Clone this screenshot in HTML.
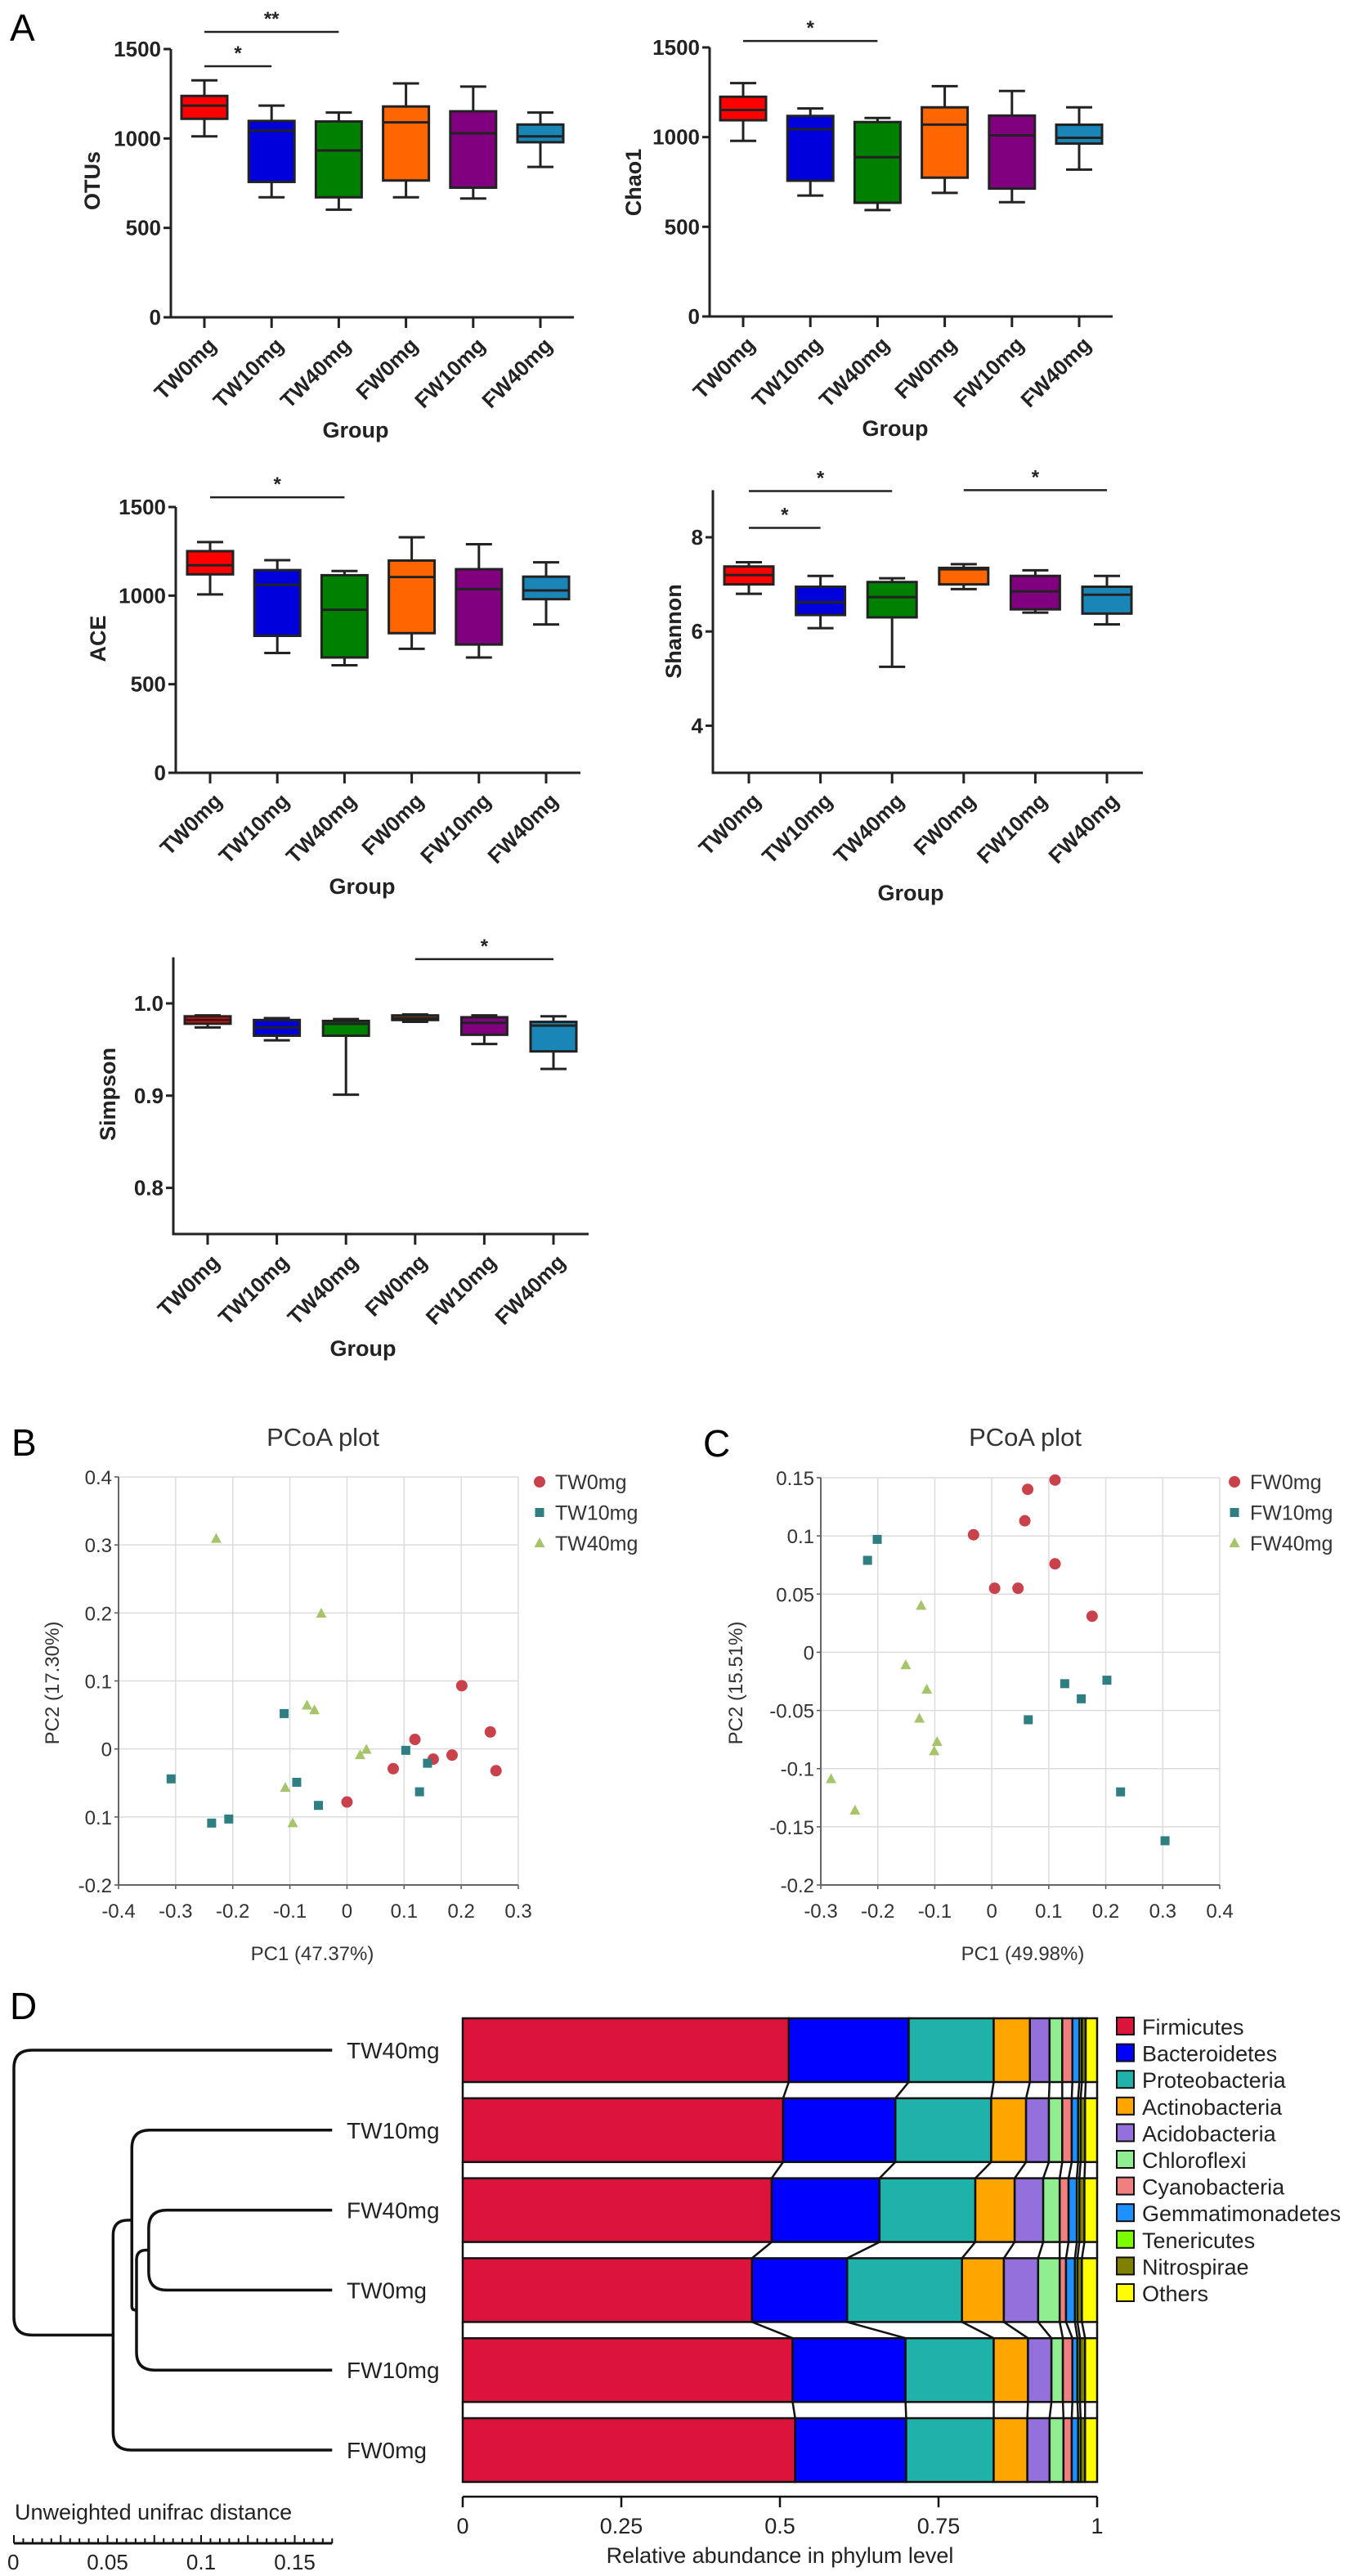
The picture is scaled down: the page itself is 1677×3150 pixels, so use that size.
<!DOCTYPE html>
<html><head><meta charset="utf-8"><style>
html,body{margin:0;padding:0;background:#fff;}
svg{display:block;font-family:"Liberation Sans",Arial,sans-serif;}
</style></head><body>
<svg id="fig" width="1677" height="3150" viewBox="0 0 1677 3150" xmlns="http://www.w3.org/2000/svg">
<rect width="1677" height="3150" fill="#fff"/>
<text x="12" y="50" font-size="46">A</text>
<text x="14" y="1780" font-size="46">B</text>
<text x="860" y="1781" font-size="46">C</text>
<text x="12" y="2469" font-size="46">D</text>
</svg>
<script>
const NS="http://www.w3.org/2000/svg";
const svg=document.getElementById('fig');
function mk(tag,attrs,parent){const e=document.createElementNS(NS,tag);for(const k in attrs)e.setAttribute(k,attrs[k]);(parent||svg).appendChild(e);return e;}

// ---------- Panel A data ----------
const groups=["TW0mg","TW10mg","TW40mg","FW0mg","FW10mg","FW40mg"];
const boxColors=["#ff0000","#0000dd","#008000","#ff6600","#800080","#1a86b8"];
const otuMin=[1012,671,602,671,664,841];
const otuQ1=[1110,757,671,765,725,979];
const otuMed=[1184,1044,933,1090,1029,1012];
const otuQ3=[1238,1098,1095,1179,1152,1078];
const otuMax=[1325,1184,1145,1308,1290,1145];
const chaoMin=[979,674,593,689,637,819];
const chaoQ1=[1094,757,634,774,713,964];
const chaoMed=[1151,1044,888,1070,1010,996];
const chaoQ3=[1225,1118,1084,1166,1120,1069];
const chaoMax=[1301,1160,1107,1284,1257,1166];
const aceMin=[1007,676,607,700,651,837];
const aceQ1=[1120,773,651,788,724,980];
const aceMed=[1171,1061,920,1105,1037,1029];
const aceQ3=[1251,1144,1115,1198,1149,1107];
const aceMax=[1302,1200,1139,1329,1290,1188];
const shanMin=[6.8,6.07,5.25,6.9,6.4,6.15];
const shanQ1=[7.0,6.35,6.3,7.0,6.47,6.38];
const shanMed=[7.2,6.62,6.73,7.32,6.85,6.78];
const shanQ3=[7.38,6.95,7.05,7.35,7.18,6.95];
const shanMax=[7.47,7.18,7.13,7.43,7.3,7.18];
const simpMin=[0.974,0.960,0.901,0.980,0.956,0.929];
const simpQ1=[0.978,0.965,0.965,0.982,0.966,0.948];
const simpMed=[0.982,0.974,0.978,0.984,0.979,0.976];
const simpQ3=[0.986,0.982,0.981,0.987,0.985,0.980];
const simpMax=[0.987,0.984,0.983,0.988,0.987,0.986];
const otuTicks=[0,500,1000,1500];
const shanTicks=[4,6,8];
const simpTicks=[0.8,0.9,1.0];
const simpTickLabels=["0.8","0.9","1.0"];
const otuSig=[[0,1,"*",1404],[0,2,"**",1596]];
const chaoSig=[[0,2,"*",1536]];
const aceSig=[[0,2,"*",1555]];
const shanSig=[[0,2,"*",8.98],[0,1,"*",8.2],[3,5,"*",9.0]];
const simpSig=[[3,5,"*",1.048]];

function boxplot(c){
  const g=mk('g',{});
  
  
  const y=v=>c.y0+(v-c.v0)*(c.y1-c.y0)/(c.v1-c.v0);
  const x=i=>c.cx0+i*c.step;
  const yTop=y(c.vTop);
  const ax=mk('path',{d:`M${c.ax} ${yTop} V${c.y0} H${c.xEnd}`,fill:'none',stroke:'#222','stroke-width':3},g);
  
  
  c.ticks.forEach((t,k)=>{
    const ty=y(t);
    const tk=mk('line',{x1:c.ax-9,x2:c.ax,y1:ty,y2:ty,stroke:'#222','stroke-width':3},g);
    
    
    const tl=mk('text',{x:c.ax-12,y:ty+9,'text-anchor':'end','font-size':26,'font-weight':'bold',fill:'#222'},g);
    tl.textContent=c.tickLabels?c.tickLabels[k]:String(t);
    
    
  });
  groups.forEach((gn,i)=>{
    const cx=x(i);
    const tk=mk('line',{x1:cx,x2:cx,y1:c.y0,y2:c.y0+13,stroke:'#222','stroke-width':3},g);
    
    
    const tl=mk('text',{x:cx+16,y:c.y0+36,'text-anchor':'end','font-size':26,'font-weight':'bold',fill:'#222',transform:`rotate(-45 ${cx+16} ${c.y0+36})`},g);
    tl.textContent=gn;
    
    
    const h=c.half, cap=16;
    const wh=mk('path',{d:`M${cx} ${y(c.min[i])} V${y(c.q1[i])} M${cx} ${y(c.q3[i])} V${y(c.max[i])} M${cx-cap} ${y(c.min[i])} H${cx+cap} M${cx-cap} ${y(c.max[i])} H${cx+cap}`,stroke:'#222','stroke-width':3,fill:'none'},g);
    
    
    const bx=mk('rect',{x:cx-h,y:y(c.q3[i]),width:2*h,height:Math.max(1,y(c.q1[i])-y(c.q3[i])),fill:boxColors[i],stroke:'#222','stroke-width':3},g);
    
    
    const md=mk('line',{x1:cx-h,x2:cx+h,y1:y(c.med[i]),y2:y(c.med[i]),stroke:'#222','stroke-width':3},g);
    
    
  });
  c.sig.forEach(s=>{
    const sy=y(s[3]);
    const ln=mk('line',{x1:x(s[0]),x2:x(s[1]),y1:sy,y2:sy,stroke:'#222','stroke-width':2.5},g);
    
    
    const st=mk('text',{x:(x(s[0])+x(s[1]))/2,y:sy-8,'text-anchor':'middle','font-size':24,'font-weight':'bold',fill:'#222'},g);
    st.textContent=s[2];
    
    
  });
  const yl=mk('text',{x:c.ylx,y:c.yly,'text-anchor':'middle','font-size':27,'font-weight':'bold',fill:'#222',transform:`rotate(-90 ${c.ylx} ${c.yly})`},g);
  yl.textContent=c.ylabel;
  
  
  const xl=mk('text',{x:c.glx,y:c.gly,'text-anchor':'middle','font-size':27,'font-weight':'bold',fill:'#222'},g);
  xl.textContent='Group';
  
  
}
boxplot({name:'otus',ax:209,xEnd:702,y0:388,y1:60,v0:0,v1:1500,vTop:1500,cx0:250,step:82.2,half:28,ticks:otuTicks,min:otuMin,q1:otuQ1,med:otuMed,q3:otuQ3,max:otuMax,sig:otuSig,ylabel:'OTUs',ylx:122,yly:221,glx:435,gly:535});
boxplot({name:'chao1',ax:868,xEnd:1361,y0:387,y1:58,v0:0,v1:1500,vTop:1500,cx0:909,step:82.2,half:28,ticks:otuTicks,min:chaoMin,q1:chaoQ1,med:chaoMed,q3:chaoQ3,max:chaoMax,sig:chaoSig,ylabel:'Chao1',ylx:784,yly:223,glx:1095,gly:533});
boxplot({name:'ace',ax:215,xEnd:710,y0:945,y1:620,v0:0,v1:1500,vTop:1500,cx0:257,step:82.2,half:28,ticks:otuTicks,min:aceMin,q1:aceQ1,med:aceMed,q3:aceQ3,max:aceMax,sig:aceSig,ylabel:'ACE',ylx:129,yly:781,glx:443,gly:1093});
boxplot({name:'shannon',ax:872,xEnd:1398,y0:945,y1:657,v0:3,v1:8,vTop:9,cx0:916,step:87.6,half:30,ticks:shanTicks,min:shanMin,q1:shanQ1,med:shanMed,q3:shanQ3,max:shanMax,sig:shanSig,ylabel:'Shannon',ylx:833,yly:772,glx:1114,gly:1101});
boxplot({name:'simpson',ax:212,xEnd:720,y0:1509,y1:1227,v0:0.75,v1:1.0,vTop:1.05,cx0:254,step:84.6,half:28,ticks:simpTicks,tickLabels:simpTickLabels,min:simpMin,q1:simpQ1,med:simpMed,q3:simpQ3,max:simpMax,sig:simpSig,ylabel:'Simpson',ylx:141,yly:1338,glx:444,gly:1658});

// ---------- PCoA data ----------
const bXTicks=[-0.4,-0.3,-0.2,-0.1,0,0.1,0.2,0.3];
const bYTicks=[-0.2,-0.1,0,0.1,0.2,0.3,0.4];
const bYTickLabels=["-0.2","0.1","0","0.1","0.2","0.3","0.4"];
const bNames=["TW0mg","TW10mg","TW40mg"];
const bTW0x=[0.201,0.119,0.251,0.151,0.184,0.081,0.261,0.0];
const bTW0y=[0.093,0.014,0.025,-0.015,-0.009,-0.029,-0.032,-0.078];
const bTW10x=[-0.110,0.103,0.141,-0.088,-0.308,0.127,-0.050,-0.207,-0.237];
const bTW10y=[0.052,-0.002,-0.021,-0.049,-0.044,-0.063,-0.083,-0.103,-0.109];
const bTW40x=[-0.229,-0.045,-0.070,-0.057,0.034,0.023,-0.108,-0.095];
const bTW40y=[0.309,0.199,0.064,0.057,-0.001,-0.009,-0.057,-0.109];
const cXTicks=[-0.3,-0.2,-0.1,0,0.1,0.2,0.3,0.4];
const cYTicks=[-0.2,-0.15,-0.1,-0.05,0,0.05,0.1,0.15];
const cYTickLabels=["-0.2","-0.15","-0.1","-0.05","0","0.05","0.1","0.15"];
const cNames=["FW0mg","FW10mg","FW40mg"];
const cFW0x=[0.111,0.063,0.058,-0.032,0.111,0.005,0.046,0.176];
const cFW0y=[0.148,0.140,0.113,0.101,0.076,0.055,0.055,0.031];
const cFW10x=[-0.201,-0.218,0.128,0.202,0.157,0.064,0.226,0.304];
const cFW10y=[0.097,0.079,-0.027,-0.024,-0.040,-0.058,-0.120,-0.162];
const cFW40x=[-0.124,-0.151,-0.114,-0.127,-0.096,-0.101,-0.282,-0.240];
const cFW40y=[0.040,-0.011,-0.032,-0.057,-0.077,-0.085,-0.109,-0.136];
const ptColors=["#c8414b","#2f7f82","#a6c46a"];

function marker(g,kind,px,py,color,name){
  let e;
  if(kind===0)e=mk('circle',{cx:px,cy:py,r:7,fill:color},g);
  else if(kind===1)e=mk('rect',{x:px-5.5,y:py-5.5,width:11,height:11,fill:color},g);
  else e=mk('path',{d:`M${px} ${py-7} L${px+6.5} ${py+5} L${px-6.5} ${py+5}Z`,fill:color},g);
  
  
  return e;
}
function pcoa(c){
  const g=mk('g',{});
  
  
  const xs=v=>c.px0+(v-c.xv0)*(c.px1-c.px0)/(c.xv1-c.xv0);
  const ys=v=>c.py0+(v-c.yv0)*(c.py1-c.py0)/(c.yv1-c.yv0);
  const xMin=c.xt[0],xMax=c.xt[c.xt.length-1],yMin=c.yt[0],yMax=c.yt[c.yt.length-1];
  c.xt.forEach(t=>{
    if(t!==xMin){const l=mk('line',{x1:xs(t),x2:xs(t),y1:ys(yMin),y2:ys(yMax),stroke:'#dcdcdc','stroke-width':1.5},g);
    
    }
    const tk=mk('line',{x1:xs(t),x2:xs(t),y1:ys(yMin),y2:ys(yMin)+5,stroke:'#555','stroke-width':1.5},g);
    
    
    const tl=mk('text',{x:xs(t),y:ys(yMin)+40,'text-anchor':'middle','font-size':24,fill:'#333'},g);
    tl.textContent=String(t);
    
    
  });
  c.yt.forEach((t,k)=>{
    if(t!==yMin){const l=mk('line',{x1:xs(xMin),x2:xs(xMax),y1:ys(t),y2:ys(t),stroke:'#dcdcdc','stroke-width':1.5},g);
    
    }
    const tk=mk('line',{x1:xs(xMin)-5,x2:xs(xMin),y1:ys(t),y2:ys(t),stroke:'#555','stroke-width':1.5},g);
    
    
    const tl=mk('text',{x:xs(xMin)-8,y:ys(t)+9,'text-anchor':'end','font-size':24,fill:'#333'},g);
    tl.textContent=c.ytl[k];
    
    
  });
  const ax=mk('path',{d:`M${xs(xMin)} ${ys(yMax)} V${ys(yMin)} H${xs(xMax)}`,fill:'none',stroke:'#666','stroke-width':2},g);
  
  
  c.series.forEach((s,si)=>{
    s[0].forEach((vx,j)=>{marker(g,si,xs(vx),ys(s[1][j]),ptColors[si],'point-'+c.names[si]);});
    const ly=c.legY+si*37.5;
    marker(g,si,c.legX,ly,ptColors[si],'legend-marker-'+c.names[si]);
    const lt=mk('text',{x:c.legX+19,y:ly+9,'font-size':25,fill:'#333'},g);
    lt.textContent=c.names[si];
    
    
  });
  const tt=mk('text',{x:c.tx,y:c.ty,'text-anchor':'middle','font-size':31,fill:'#333'},g);
  tt.textContent='PCoA plot';
  
  
  const xl=mk('text',{x:c.xlx,y:c.xly,'text-anchor':'middle','font-size':24,fill:'#333'},g);
  xl.textContent=c.xlabel;
  
  
  const yl=mk('text',{x:c.ylx,y:c.yly,'text-anchor':'middle','font-size':24,fill:'#333',transform:`rotate(-90 ${c.ylx} ${c.yly})`},g);
  yl.textContent=c.ylabel;
  
  
}
pcoa({name:'pcoa-b',px0:145,px1:634,xv0:-0.4,xv1:0.3,py0:2305,py1:1806,yv0:-0.2,yv1:0.4,xt:bXTicks,yt:bYTicks,ytl:bYTickLabels,names:bNames,
  series:[[bTW0x,bTW0y],[bTW10x,bTW10y],[bTW40x,bTW40y]],legX:660,legY:1812,tx:395,ty:1768,xlx:382,xly:2397,ylx:72,yly:2058,xlabel:'PC1 (47.37%)',ylabel:'PC2  (17.30%)'});
pcoa({name:'pcoa-c',px0:1004,px1:1492,xv0:-0.3,xv1:0.4,py0:2305,py1:1807,yv0:-0.2,yv1:0.15,xt:cXTicks,yt:cYTicks,ytl:cYTickLabels,names:cNames,
  series:[[cFW0x,cFW0y],[cFW10x,cFW10y],[cFW40x,cFW40y]],legX:1510,legY:1812,tx:1254,ty:1768,xlx:1251,xly:2397,ylx:908,yly:2058,xlabel:'PC1 (49.98%)',ylabel:'PC2  (15.51%)'});

// ---------- Panel D data ----------
const rowNames=["TW40mg","TW10mg","FW40mg","TW0mg","FW10mg","FW0mg"];
const phyla=["Firmicutes","Bacteroidetes","Proteobacteria","Actinobacteria","Acidobacteria","Chloroflexi","Cyanobacteria","Gemmatimonadetes","Tenericutes","Nitrospirae","Others"];
const phylaColors=["#dc143c","#0000ff","#20b2aa","#ffa500","#9370db","#90ee90","#f08080","#1e90ff","#7cfc00","#808000","#ffff00"];
const abTW40=[0.514,0.189,0.134,0.057,0.031,0.020,0.016,0.011,0.004,0.006,0.018];
const abTW10=[0.505,0.177,0.151,0.055,0.036,0.021,0.015,0.010,0.004,0.007,0.019];
const abFW40=[0.487,0.170,0.151,0.062,0.045,0.026,0.014,0.013,0.004,0.008,0.020];
const abTW0=[0.456,0.150,0.181,0.066,0.054,0.034,0.010,0.014,0.004,0.007,0.024];
const abFW10=[0.520,0.178,0.139,0.054,0.037,0.018,0.015,0.008,0.004,0.008,0.019];
const abFW0=[0.524,0.175,0.138,0.053,0.035,0.022,0.013,0.010,0.004,0.007,0.019];
const abXTicks=[0,0.25,0.5,0.75,1];
const abXTickLabels=["0","0.25","0.5","0.75","1"];
const distTicks=[0,0.05,0.1,0.15];
// tree: node distance from root (unifrac scale) and children
const leafDist=0.17;
const nodeD=["FW40mg","TW0mg",0.072];
const nodeC=["D","FW10mg",0.0655];
const nodeB=["TW10mg","C",0.063];
const nodeA=["B","FW0mg",0.053];
const nodeRoot=["TW40mg","A",0.0];

(function(){
  const rows=[abTW40,abTW10,abFW40,abTW0,abFW10,abFW0];
  const bx0=566,bw=776,rowTop0=2468,rowStep=97.8,bh=78;
  const xs=v=>bx0+v*bw;
  const g=mk('g',{});
  
  
  const cums=rows.map(r=>{let c=[0];r.forEach(v=>c.push(c[c.length-1]+v));const s=c[c.length-1];return c.map(v=>v/s);});
  rows.forEach((r,i)=>{
    const top=rowTop0+i*rowStep;
    r.forEach((v,k)=>{
      const x0=xs(cums[i][k]),x1=xs(cums[i][k+1]);
      const b=mk('rect',{x:x0,y:top,width:x1-x0,height:bh,fill:phylaColors[k],stroke:'#111','stroke-width':2.5},g);
      
      
    });
    if(i<rows.length-1){
      for(let k=1;k<cums[i].length-1;k++){
        const l=mk('line',{x1:xs(cums[i][k]),y1:top+bh,x2:xs(cums[i+1][k]),y2:top+rowStep,stroke:'#111','stroke-width':2.5},g);
        
        
      }
      const l1=mk('line',{x1:xs(1),y1:top+bh,x2:xs(1),y2:top+rowStep,stroke:'#111','stroke-width':2.5},g);
      
      
      const l0=mk('line',{x1:xs(0),y1:top+bh,x2:xs(0),y2:top+rowStep,stroke:'#111','stroke-width':2.5},g);
      
      
    }
  });
  const axY=3053;
  const ax=mk('line',{x1:xs(0),x2:xs(1),y1:axY,y2:axY,stroke:'#111','stroke-width':2.5},g);
  
  
  abXTicks.forEach((t,k)=>{
    const tk=mk('line',{x1:xs(t),x2:xs(t),y1:axY,y2:axY+13,stroke:'#111','stroke-width':2.5},g);
    
    
    const tl=mk('text',{x:xs(t),y:axY+45,'text-anchor':'middle','font-size':27,fill:'#222'},g);
    tl.textContent=abXTickLabels[k];
    
    
  });
  const xl=mk('text',{x:xs(0.5),y:3134,'text-anchor':'middle','font-size':27,fill:'#222'},g);
  xl.textContent='Relative abundance in phylum level';
  
  
  phyla.forEach((p,k)=>{
    const ly=2478+k*32.6;
    const sw=mk('rect',{x:1366,y:ly-11,width:21,height:21,fill:phylaColors[k],stroke:'#111','stroke-width':2},g);
    
    
    const t=mk('text',{x:1397,y:ly+10,'font-size':27,fill:'#222'},g);
    t.textContent=p;
    
    
  });

  // dendrogram
  const tg=mk('g',{});
  
  
  const dx0=17,dscale=2290;
  const dX=d=>dx0+d*dscale;
  const nodes={D:nodeD,C:nodeC,B:nodeB,A:nodeA,R:nodeRoot};
  const pos={};
  rowNames.forEach((n,i)=>{pos[n]={x:dX(leafDist),y:rowTop0+i*rowStep+39};});
  ["D","C","B","A","R"].forEach(id=>{
    const n=nodes[id];const a=pos[n[0]],b=pos[n[1]];const x=dX(n[2]);
    pos[id]={x:x,y:(a.y+b.y)/2};
    const r1=Math.min(22,(a.x-x)*0.8,(b.y-a.y)/2),r2=Math.min(22,(b.x-x)*0.8,(b.y-a.y)/2);
    const p=mk('path',{d:`M${a.x} ${a.y} H${x+r1} Q${x} ${a.y} ${x} ${a.y+r1} V${b.y-r2} Q${x} ${b.y} ${x+r2} ${b.y} H${b.x}`,fill:'none',stroke:'#111','stroke-width':3.5},tg);
    
    
  });
  rowNames.forEach((n,i)=>{
    const t=mk('text',{x:424,y:rowTop0+i*rowStep+39+10,'font-size':28,fill:'#222'},tg);
    t.textContent=n;
    
    
  });
  const st=mk('text',{x:18,y:3081,'font-size':27,fill:'#222'},tg);
  st.textContent='Unweighted unifrac distance';
  
  
  const sy=3110;
  const sl=mk('line',{x1:dX(0),x2:dX(leafDist),y1:sy,y2:sy,stroke:'#111','stroke-width':3},tg);
  
  
  for(let k=0;k<=34;k++){
    const xx=dX(k*0.005);const tall=(k%5===0);
    const tk=mk('line',{x1:xx,x2:xx,y1:sy,y2:sy-(tall?10:6),stroke:'#111','stroke-width':2},tg);
    
    
  }
  distTicks.forEach(t=>{
    const tl=mk('text',{x:t===0?dX(t)-8:dX(t),y:3142,'text-anchor':t===0?'start':'middle','font-size':26,fill:'#222'},tg);
    tl.textContent=String(t);
    
    
  });
})();
</script>
</body></html>
